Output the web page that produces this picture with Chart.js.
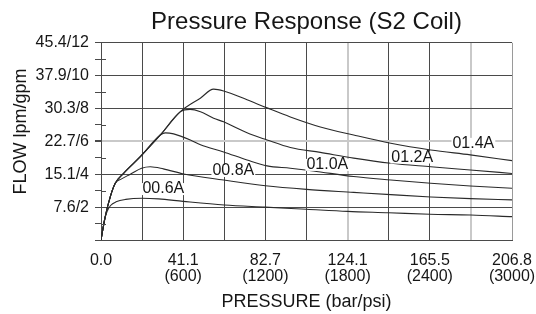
<!DOCTYPE html>
<html>
<head>
<meta charset="utf-8">
<script src="https://cdn.jsdelivr.net/npm/chart.js@4.4.0/dist/chart.umd.min.js"></script>
<style>
  html, body { margin: 0; padding: 0; background: #fff; }
</style>
</head>
<body>
<canvas id="pressureChart" width="536" height="314"></canvas>
<script>
// curve names (coil current)
const seriesNames = ['00.6A', '00.8A', '01.0A', '01.2A', '01.4A'];

// each curve: pressure in psi, flow in gpm
const psi06 = [0, 25, 45, 70, 110, 180, 300, 420, 600, 900, 1200, 1500, 1800, 2100, 2400, 2700, 3000];
const gpm06 = [0, 1.2, 1.75, 2.1, 2.32, 2.47, 2.54, 2.5, 2.35, 2.13, 2.0, 1.87, 1.74, 1.66, 1.57, 1.52, 1.42];

const psi08 = [0, 31, 68, 104, 150, 214, 296, 360, 455, 603, 895, 1200, 1500, 1844, 2115, 2407, 2696, 3000];
const gpm08 = [0, 1.42, 2.64, 3.45, 3.72, 4.0, 4.37, 4.46, 4.33, 4.02, 3.65, 3.3, 3.08, 2.9, 2.76, 2.62, 2.52, 2.44];

const psi10 = [0, 31, 68, 104, 165, 287, 433, 470, 530, 652, 726, 895, 1066, 1212, 1382, 1550, 1844, 2115, 2407, 2696, 3000];
const gpm10 = [0, 1.42, 2.64, 3.45, 4.06, 5.07, 6.39, 6.52, 6.46, 6.09, 5.79, 5.36, 4.87, 4.51, 4.37, 4.2, 3.86, 3.65, 3.45, 3.29, 3.15];

const psi12 = [0, 31, 68, 104, 165, 287, 433, 580, 650, 726, 822, 895, 1066, 1212, 1382, 1601, 1844, 2115, 2407, 2696, 3000];
const gpm12 = [0, 1.42, 2.64, 3.45, 4.06, 5.07, 6.39, 7.81, 7.95, 7.81, 7.41, 7.19, 6.52, 6.09, 5.63, 5.33, 4.98, 4.67, 4.46, 4.26, 4.05];

const psi14 = [0, 31, 68, 104, 165, 287, 433, 580, 725, 822, 895, 1066, 1212, 1382, 1601, 1844, 2115, 2407, 2696, 3000];
const gpm14 = [0, 1.42, 2.64, 3.45, 4.06, 5.07, 6.39, 7.81, 8.63, 9.18, 9.07, 8.53, 8.04, 7.49, 6.88, 6.39, 5.89, 5.48, 5.18, 4.83];

// where the current labels sit, in data units
const labelPsi = [455, 966, 1652, 2272, 2718];
const labelGpm = [3.1, 4.2, 4.57, 5.02, 5.85];

// axis tick labels
const yTickLabels = ['', '7.6/2', '15.1/4', '22.7/6', '30.3/8', '37.9/10', '45.4/12'];
const xTickBar = ['0.0', '41.1', '82.7', '124.1', '165.5', '206.8'];
const xTickPsi = ['', '(600)', '(1200)', '(1800)', '(2400)', '(3000)'];

const darkGrid = '#4a4a4a';
const lightGrid = '#c9c9c9';
const textColor = '#161616';

Chart.defaults.font.family = "'Liberation Sans', Arial, sans-serif";
Chart.defaults.color = textColor;

const curves = [[psi06, gpm06], [psi08, gpm08], [psi10, gpm10], [psi12, gpm12], [psi14, gpm14]];

const datasets = curves.map(function (c, i) {
    return {
        label: seriesNames[i],
        data: c[0].map(function (x, j) { return { x: x, y: c[1][j] }; }),
        borderColor: '#2a2a2a',
        borderWidth: 1.1,
        pointRadius: 0,
        fill: false,
        cubicInterpolationMode: 'monotone'
    };
});

// small tick marks inside the plot at the odd gpm values
const minorTicks = {
    id: 'minorTicks',
    afterDraw(chart) {
        const ctx = chart.ctx;
        const y = chart.scales.y;
        const left = chart.chartArea.left;
        ctx.save();
        ctx.strokeStyle = darkGrid;
        ctx.lineWidth = 1;
        y.ticks.forEach(function (t) {
            if (t.value % 2 === 1) {
                const py = Math.round(y.getPixelForValue(t.value)) + 0.5;
                ctx.beginPath();
                ctx.moveTo(left, py);
                ctx.lineTo(left + 5, py);
                ctx.stroke();
            }
        });
        ctx.restore();
    }
};

// current labels written on the curves
const curveLabels = {
    id: 'curveLabels',
    afterDatasetsDraw(chart) {
        const ctx = chart.ctx;
        const xs = chart.scales.x;
        const ys = chart.scales.y;
        ctx.save();
        ctx.font = "16px 'Liberation Sans', Arial, sans-serif";
        ctx.textAlign = 'center';
        ctx.textBaseline = 'middle';
        seriesNames.forEach(function (name, i) {
            const px = xs.getPixelForValue(labelPsi[i]);
            const py = ys.getPixelForValue(labelGpm[i]);
            const w = ctx.measureText(name).width;
            ctx.fillStyle = '#fff';
            ctx.fillRect(px - w / 2 - 1, py - 6, w + 2, 12);
            ctx.fillStyle = textColor;
            ctx.fillText(name, px, py);
        });
        ctx.restore();
    }
};

new Chart(document.getElementById('pressureChart'), {
    type: 'line',
    data: { datasets: datasets },
    options: {
        responsive: false,
        animation: false,
        layout: { padding: { left: 1, right: 0, top: 0, bottom: 0 } },
        plugins: {
            legend: { display: false },
            tooltip: { enabled: false },
            title: {
                display: true,
                fullSize: false,
                text: 'Pressure Response (S2 Coil)',
                font: { size: 24, weight: 'normal' },
                color: textColor,
                padding: { top: 8, bottom: 6 }
            }
        },
        scales: {
            x: {
                type: 'linear',
                min: 0,
                max: 3000,
                afterFit(scale) {
                    scale.height = 74;
                    scale.paddingRight = 24;
                },
                grid: {
                    drawTicks: false,
                    color(c) {
                        const v = c.tick ? c.tick.value : 0;
                        if (v === 1800 || v === 2700) return lightGrid;
                        if (v === 3000) return '#9a9a9a';
                        return darkGrid;
                    },
                    lineWidth(c) {
                        const v = c.tick ? c.tick.value : 0;
                        return (v === 1800 || v === 2700) ? 2 : 1;
                    }
                },
                border: { color: darkGrid },
                ticks: {
                    stepSize: 300,
                    autoSkip: false,
                    maxRotation: 0,
                    padding: 13,
                    font: { size: 16, lineHeight: 1 },
                    color: textColor,
                    callback(value) {
                        if (value % 600 !== 0) return '';
                        const i = value / 600;
                        return i === 0 ? xTickBar[0] : [xTickBar[i], xTickPsi[i]];
                    }
                },
                title: {
                    display: true,
                    text: 'PRESSURE (bar/psi)',
                    font: { size: 18 },
                    color: textColor,
                    padding: { top: 0, bottom: 1 }
                }
            },
            y: {
                min: 0,
                max: 12,
                afterFit(scale) { scale.width = 100; },
                grid: {
                    tickLength: 6,
                    tickColor: darkGrid,
                    color(c) {
                        const v = c.tick ? c.tick.value : 0;
                        if (v % 2 === 1) return 'rgba(0,0,0,0)';
                        if (v === 6) return lightGrid;
                        return darkGrid;
                    },
                    lineWidth(c) {
                        const v = c.tick ? c.tick.value : 0;
                        return v === 6 ? 2 : 1;
                    }
                },
                border: { color: darkGrid },
                ticks: {
                    stepSize: 1,
                    autoSkip: false,
                    padding: 6,
                    font: { size: 16 },
                    color: textColor,
                    callback(value) {
                        return value % 2 === 0 ? yTickLabels[value / 2] : '';
                    }
                },
                title: {
                    display: true,
                    text: '    FLOW lpm/gpm',
                    font: { size: 18 },
                    color: textColor,
                    padding: { top: 9, bottom: 0 }
                }
            }
        }
    },
    plugins: [minorTicks, curveLabels]
});
</script>
</body>
</html>
